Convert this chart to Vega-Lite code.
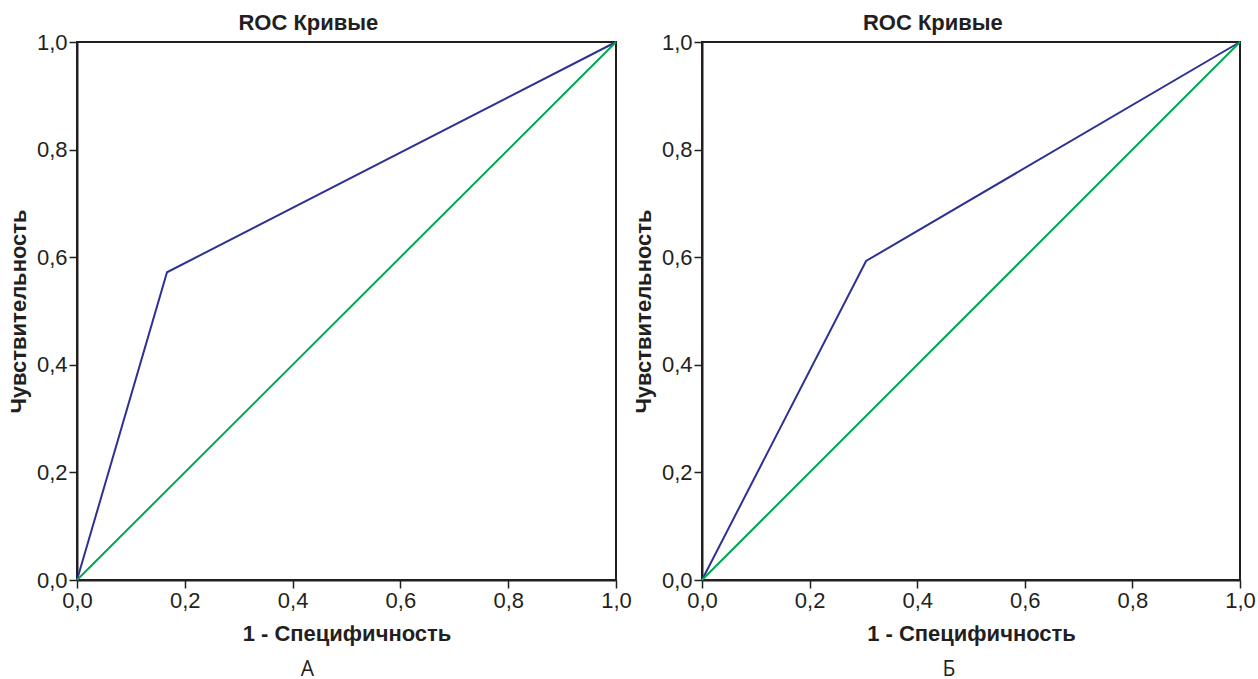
{
  "$schema": "https://vega.github.io/schema/vega-lite/v6.json",
  "background": "white",
  "padding": {"left": 6, "top": 11, "right": 0, "bottom": 12},
  "datasets": {
    "roc": [
      {"panel": "А", "series": "ROC", "x": 0, "y": 0},
      {"panel": "А", "series": "ROC", "x": 0.167, "y": 0.572},
      {"panel": "А", "series": "ROC", "x": 1, "y": 1},
      {"panel": "А", "series": "Опорная линия", "x": 0, "y": 0},
      {"panel": "А", "series": "Опорная линия", "x": 1, "y": 1},
      {"panel": "Б", "series": "ROC", "x": 0, "y": 0},
      {"panel": "Б", "series": "ROC", "x": 0.305, "y": 0.593},
      {"panel": "Б", "series": "ROC", "x": 1, "y": 1},
      {"panel": "Б", "series": "Опорная линия", "x": 0, "y": 0},
      {"panel": "Б", "series": "Опорная линия", "x": 1, "y": 1}
    ]
  },
  "spacing": -2,
  "hconcat": [
    {
      "title": {"text": "А", "orient": "bottom", "frame": "bounds", "anchor": "middle", "fontWeight": "normal", "fontSize": 21, "offset": 14, "dx": -12, "font": "Open Sans", "color": "#231f20"},
      "vconcat": [
        {
          "title": {"text": "ROC Кривые", "frame": "bounds", "anchor": "middle", "dx": -11, "dy": 10},
          "width": 539,
          "height": 538,
          "data": {"name": "roc"},
          "transform": [{"filter": "datum.panel === 'А'"}],
          "encoding": {
            "x": {"field": "x", "type": "quantitative", "scale": {"domain": [0, 1], "nice": false}, "axis": {"title": "1 - Специфичность", "values": [0, 0.2, 0.4, 0.6, 0.8, 1], "labelExpr": "replace(format(datum.value, '.1f'), '.', ',')"}},
            "y": {"field": "y", "type": "quantitative", "scale": {"domain": [0, 1], "nice": false}, "axis": {"title": "Чувствительность", "values": [0, 0.2, 0.4, 0.6, 0.8, 1], "labelExpr": "replace(format(datum.value, '.1f'), '.', ',')"}}
          },
          "layer": [
            {"transform": [{"filter": "datum.series === 'ROC'"}], "mark": {"type": "line", "color": "#2e3192", "strokeWidth": 2}},
            {"transform": [{"filter": "datum.series !== 'ROC'"}], "mark": {"type": "line", "color": "#00a651", "strokeWidth": 2}}
          ]
        }
      ]
    },
    {
      "title": {"text": "Б", "orient": "bottom", "frame": "bounds", "anchor": "middle", "fontWeight": "normal", "fontSize": 21, "offset": 14, "dx": 5, "font": "Open Sans", "color": "#231f20"},
      "vconcat": [
        {
          "title": {"text": "ROC Кривые", "frame": "bounds", "anchor": "middle", "dx": -11, "dy": 10},
          "width": 538,
          "height": 538,
          "data": {"name": "roc"},
          "transform": [{"filter": "datum.panel === 'Б'"}],
          "encoding": {
            "x": {"field": "x", "type": "quantitative", "scale": {"domain": [0, 1], "nice": false}, "axis": {"title": "1 - Специфичность", "values": [0, 0.2, 0.4, 0.6, 0.8, 1], "labelExpr": "replace(format(datum.value, '.1f'), '.', ',')"}},
            "y": {"field": "y", "type": "quantitative", "scale": {"domain": [0, 1], "nice": false}, "axis": {"title": "Чувствительность", "values": [0, 0.2, 0.4, 0.6, 0.8, 1], "labelExpr": "replace(format(datum.value, '.1f'), '.', ',')"}}
          },
          "layer": [
            {"transform": [{"filter": "datum.series === 'ROC'"}], "mark": {"type": "line", "color": "#2e3192", "strokeWidth": 2}},
            {"transform": [{"filter": "datum.series !== 'ROC'"}], "mark": {"type": "line", "color": "#00a651", "strokeWidth": 2}}
          ]
        }
      ]
    }
  ],
  "config": {
    "font": "Liberation Sans",
    "view": {"stroke": "#231f20", "strokeWidth": 2},
    "title": {"fontSize": 22, "fontWeight": "bold", "color": "#231f20", "offset": 6},
    "axis": {
      "grid": false,
      "domainColor": "#231f20",
      "domainWidth": 2,
      "tickColor": "#231f20",
      "tickWidth": 1.5,
      "tickSize": 8,
      "labelFontSize": 22,
      "labelColor": "#231f20",
      "labelPadding": 2,
      "titleFontSize": 22,
      "titleFontWeight": "bold",
      "titleColor": "#231f20",
      "labelFlush": false,
      "labelOverlap": false
    },
    "axisX": {"titlePadding": 12},
    "axisY": {"titlePadding": 6}
  }
}
